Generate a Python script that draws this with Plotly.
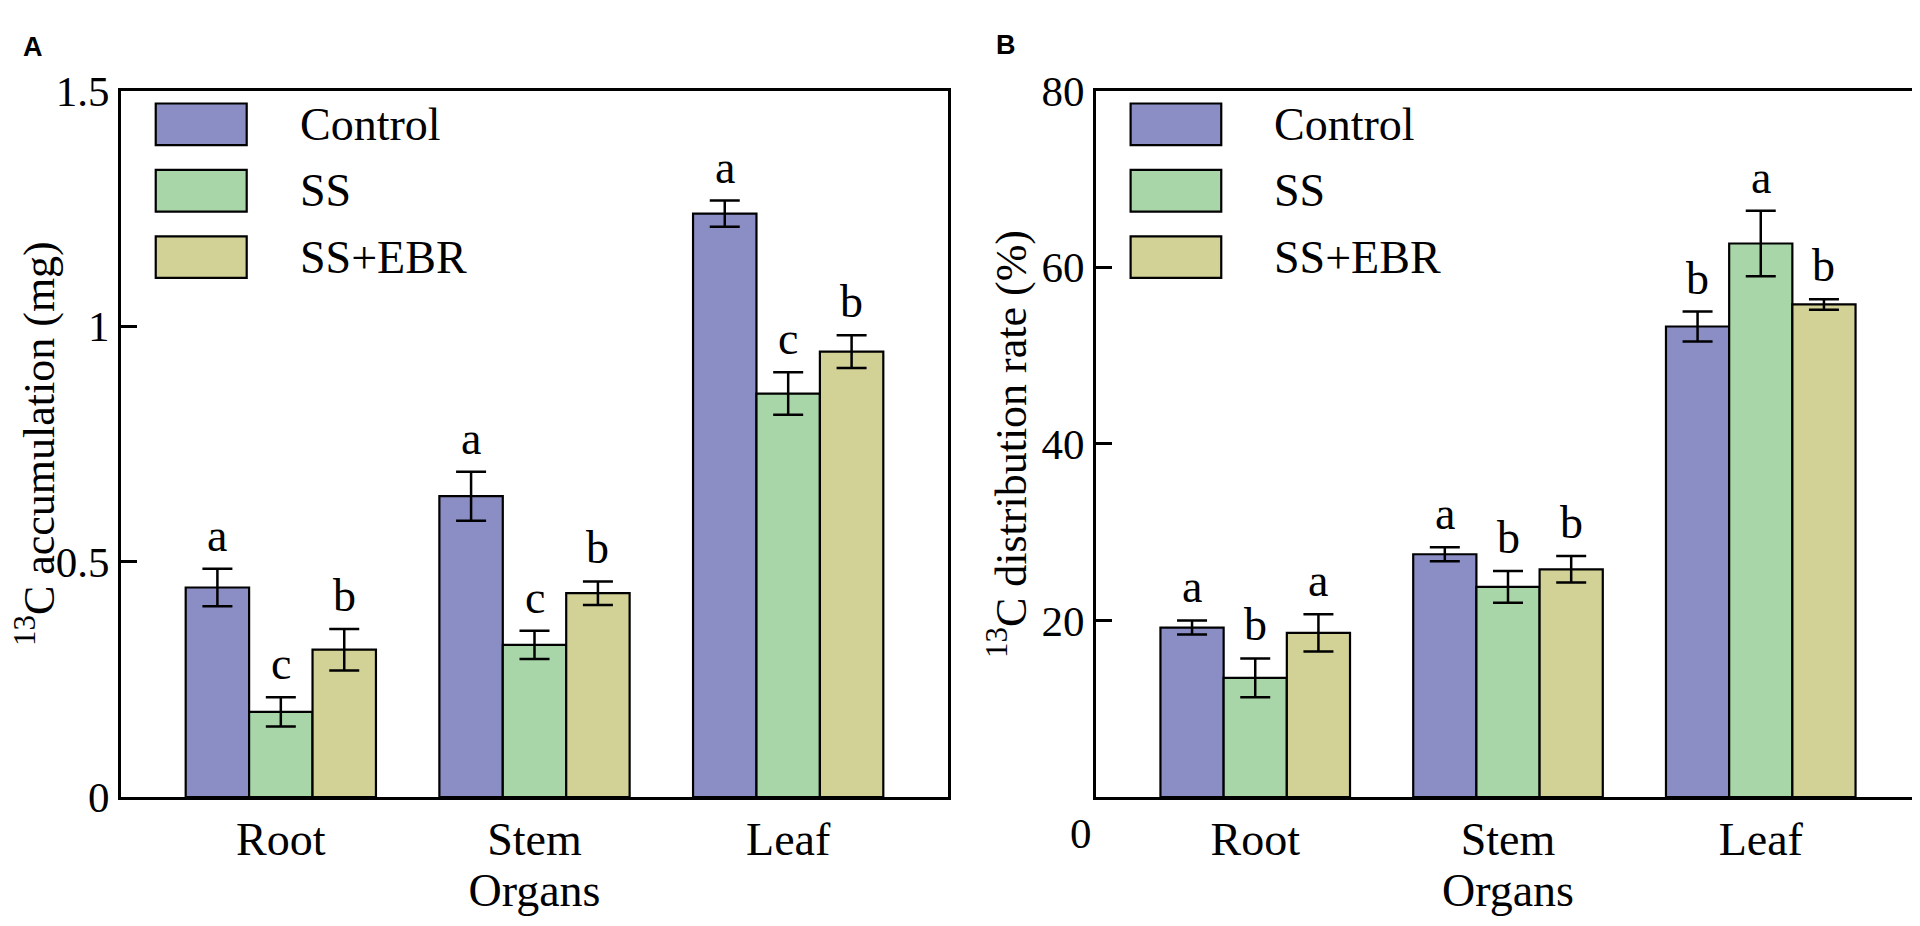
import plotly.graph_objects as go
from plotly.subplots import make_subplots

organs = ["Root", "Stem", "Leaf"]
treatments = ["Control", "SS", "SS+EBR"]
colors = ["#8B8DC5", "#A9D6A9", "#D2D196"]

# panel A: 13C accumulation (mg)
acc_mean = {
    "Control": [0.445, 0.639, 1.239],
    "SS": [0.181, 0.323, 0.857],
    "SS+EBR": [0.313, 0.433, 0.946],
}
acc_err = {
    "Control": [0.040, 0.052, 0.028],
    "SS": [0.031, 0.030, 0.045],
    "SS+EBR": [0.044, 0.025, 0.035],
}
acc_letters = {
    "Control": ["a", "a", "a"],
    "SS": ["c", "c", "c"],
    "SS+EBR": ["b", "b", "b"],
}

# panel B: 13C distribution rate (%)
dist_mean = {
    "Control": [19.2, 27.5, 53.3],
    "SS": [13.5, 23.8, 62.7],
    "SS+EBR": [18.6, 25.8, 55.8],
}
dist_err = {
    "Control": [0.8, 0.8, 1.7],
    "SS": [2.2, 1.8, 3.7],
    "SS+EBR": [2.1, 1.5, 0.6],
}
dist_letters = {
    "Control": ["a", "a", "b"],
    "SS": ["b", "b", "a"],
    "SS+EBR": ["a", "b", "b"],
}

SERIF = "Liberation Serif"
FS = 46
W, H = 1920, 926

fig = make_subplots(rows=1, cols=2)

panels = [
    (1, acc_mean, acc_err, acc_letters),
    (2, dist_mean, dist_err, dist_letters),
]
xpos = list(range(len(organs)))
for col, means, errs, letters in panels:
    xr = "x" if col == 1 else "x2"
    yr = "y" if col == 1 else "y2"
    for j, t in enumerate(treatments):
        fig.add_trace(go.Bar(
            x=xpos,
            y=means[t],
            name=t,
            showlegend=False,
            marker=dict(color=colors[j], line=dict(color="black", width=2.2)),
            error_y=dict(type="data", array=errs[t], color="black",
                         thickness=2.5, width=15),
        ), row=1, col=col)
        for i in xpos:
            fig.add_annotation(
                x=i + (j - 1) * 0.25, y=means[t][i] + errs[t][i],
                xref=xr, yref=yr, text=letters[t][i], showarrow=False,
                xanchor="center", yanchor="bottom", yshift=6,
                font=dict(family=SERIF, size=FS, color="black"),
            )

# hand drawn legends (large keys like the original)
for ax in ["x", "x2"]:
    yax = "y" if ax == "x" else "y2"
    for j, t in enumerate(treatments):
        top = 0.982 - j * 0.094
        fig.add_shape(type="rect", xref=f"{ax} domain", yref=f"{yax} domain",
                      x0=0.042, x1=0.152, y0=top - 0.059, y1=top,
                      fillcolor=colors[j], line=dict(color="black", width=2.2))
        fig.add_annotation(xref=f"{ax} domain", yref=f"{yax} domain",
                           x=0.214, y=top - 0.0295, text=t, showarrow=False,
                           xanchor="left", yanchor="middle",
                           font=dict(family=SERIF, size=FS, color="black"))

axis_line = dict(showline=True, linecolor="black", linewidth=3, mirror=True,
                 showgrid=False, zeroline=False)

fig.update_xaxes(**axis_line, tickvals=xpos, ticktext=organs, ticks="",
                 range=[-0.63, 2.63],
                 tickfont=dict(family=SERIF, size=FS, color="black"))
fig.update_xaxes(domain=[113 / W, 940 / W], row=1, col=1)
fig.update_xaxes(domain=[1088 / W, 1912 / W], row=1, col=2)
fig.update_xaxes(title=dict(text="Organs", standoff=4,
                            font=dict(family=SERIF, size=FS, color="black")))

fig.update_yaxes(**axis_line, ticks="inside", ticklen=16, tickwidth=2.5,
                 tickcolor="black", domain=[1 - 807 / H, 1 - 63 / H],
                 tickfont=dict(family=SERIF, size=43, color="black"))
fig.update_yaxes(range=[0, 1.5], tickvals=[0, 0.5, 1, 1.5],
                 ticktext=["0", "0.5", "1", "1.5"], row=1, col=1)
fig.update_yaxes(range=[0, 80], tickvals=[20, 40, 60, 80], row=1, col=2)

# y titles, placed left of the tick labels
for xpix, yax, txt in [(28, "y", "<sup>13</sup>C accumulation (mg)"),
                       (1000, "y2", "<sup>13</sup>C distribution rate (%)")]:
    fig.add_annotation(xref="paper", yref=f"{yax} domain", x=xpix / W, y=0.5,
                       text=txt, textangle=-90, showarrow=False,
                       xanchor="center", yanchor="middle",
                       font=dict(family=SERIF, size=44, color="black"))

# the stray "0" under panel B's axis corner
fig.add_annotation(xref="x2 domain", yref="y2 domain", x=-0.018, y=-0.051,
                   text="0", showarrow=False, xanchor="center", yanchor="middle",
                   font=dict(family=SERIF, size=43, color="black"))

for txt, xpix, ypix in [("A", 25, 17), ("B", 998, 15)]:
    fig.add_annotation(xref="paper", yref="paper", x=xpix / W, y=1 - ypix / H,
                       text=f"<b>{txt}</b>", showarrow=False,
                       xanchor="center", yanchor="middle",
                       font=dict(family="Liberation Sans", size=27, color="black"))

fig.update_layout(
    width=W, height=H,
    margin=dict(l=0, r=0, t=0, b=0),
    barmode="group", bargap=0.25, bargroupgap=0,
    plot_bgcolor="white", paper_bgcolor="white",
)

fig.write_html("out.html")
